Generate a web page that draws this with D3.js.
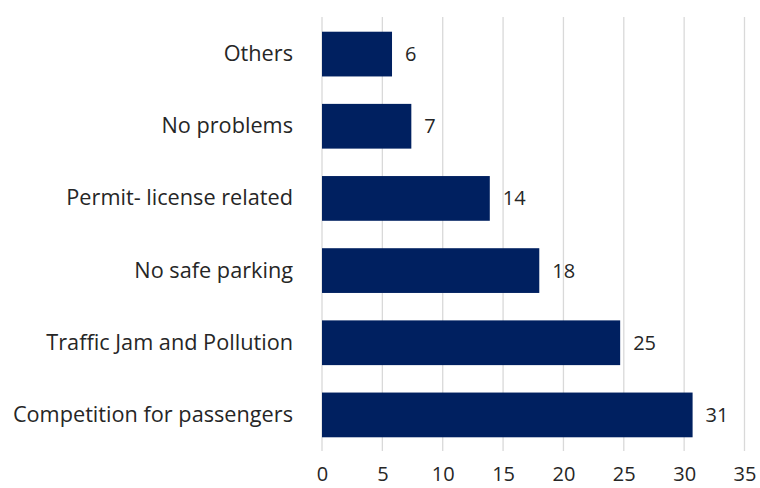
<!DOCTYPE html>
<html>
<head>
<meta charset="utf-8">
<script src="https://cdn.jsdelivr.net/npm/d3@7"></script>
<style>
  html, body { margin: 0; padding: 0; background: #fff; }
  svg { display: block; }
  text { font-family: "Open Sans", "Noto Sans", sans-serif; fill: #262626; }
</style>
</head>
<body>
<svg id="chart" width="760" height="488"></svg>
<script>
// Reported problems (share of respondents, %)
const categories = [
  "Others",
  "No problems",
  "Permit- license related",
  "No safe parking",
  "Traffic Jam and Pollution",
  "Competition for passengers"
];
const values = [5.8, 7.4, 13.9, 18.0, 24.7, 30.7];
const tickValues = [0, 5, 10, 15, 20, 25, 30, 35];

(function () {
  const svg = d3.select("#chart");
  const plotLeft = 322, plotRight = 744.5, plotTop = 18, plotBottom = 451;
  const font = '"Open Sans", "Noto Sans", sans-serif';
  const fontSize = 21.7;
  const tickFontSize = 20;
  const ink = "#262626";

  const x = d3.scaleLinear().domain([0, 35]).range([plotLeft, plotRight]);
  const y = d3.scaleBand().domain(categories).range([plotTop, plotBottom])
    .paddingInner(0.38).paddingOuter(0.19);

  // vertical gridlines
  svg.append("g")
    .selectAll("line")
    .data(tickValues)
    .join("line")
    .attr("x1", d => x(d)).attr("x2", d => x(d))
    .attr("y1", plotTop - 1).attr("y2", plotBottom)
    .attr("stroke", "#d9d9d9")
    .attr("stroke-width", 1.3);

  // bars
  svg.append("g")
    .selectAll("rect")
    .data(values)
    .join("rect")
    .attr("x", x(0))
    .attr("y", (d, i) => y(categories[i]))
    .attr("width", d => x(d) - x(0))
    .attr("height", y.bandwidth())
    .attr("fill", "#002060");

  // value labels
  svg.append("g")
    .selectAll("text")
    .data(values)
    .join("text")
    .attr("x", d => x(d) + 13)
    .attr("y", (d, i) => y(categories[i]) + y.bandwidth() / 2)
    .attr("dy", "0.35em")
    .attr("font-size", tickFontSize)
    .attr("fill", ink)
    .text(d => d3.format(".0f")(d));

  // category axis
  const yAxis = d3.axisLeft(y).tickSize(0).tickPadding(29);
  const gy = svg.append("g").attr("transform", `translate(${plotLeft},0)`).call(yAxis);
  gy.select(".domain").remove();
  gy.selectAll("text").attr("font-size", fontSize).attr("fill", ink).style("font-family", font);

  // value axis
  const xAxis = d3.axisBottom(x).tickValues(tickValues).tickSize(0).tickPadding(16);
  const gx = svg.append("g").attr("transform", `translate(0,${plotBottom})`).call(xAxis);
  gx.select(".domain").remove();
  gx.selectAll("text").attr("font-size", tickFontSize).attr("fill", ink).style("font-family", font);
})();
</script>
</body>
</html>
